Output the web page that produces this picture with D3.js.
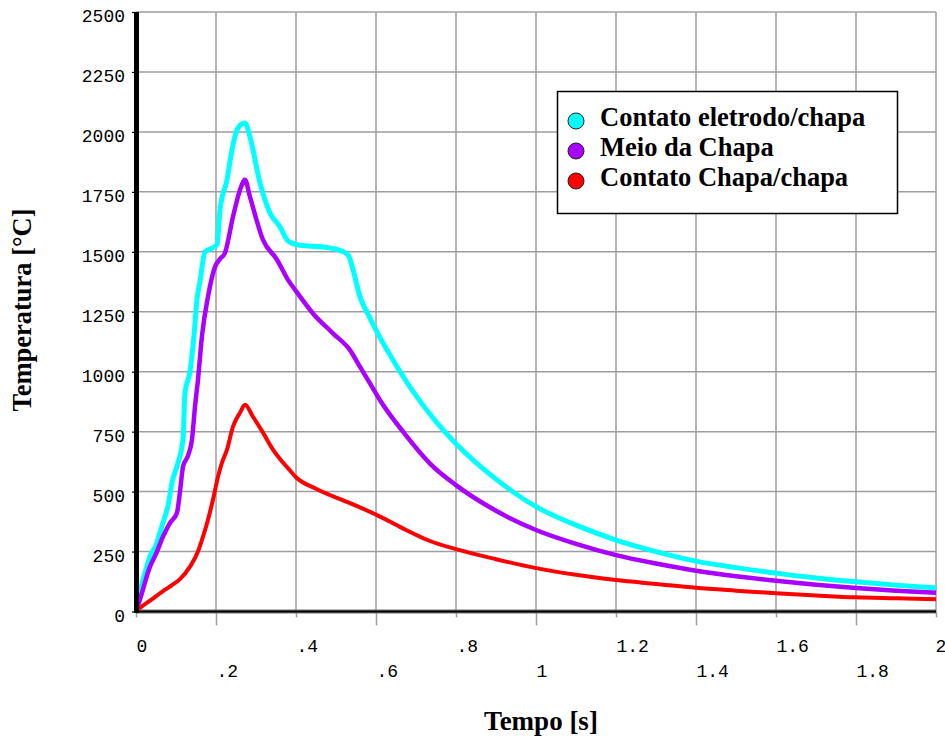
<!DOCTYPE html>
<html>
<head>
<meta charset="utf-8">
<script src="https://cdn.jsdelivr.net/npm/d3@7"></script>
<style>
  html, body { margin: 0; padding: 0; background: #fff; }
  svg { display: block; }
</style>
</head>
<body>
<script>
// ---------- DATA ----------
const seriesNames = ["Contato eletrodo/chapa", "Meio da Chapa", "Contato Chapa/chapa"];
const seriesColors = ["#00FFFF", "#AA00FF", "#FF0000"];

const eletrodoT = [0, 0.0175, 0.027, 0.035, 0.0525, 0.06, 0.0725, 0.08, 0.09, 0.105, 0.1175, 0.1225, 0.135, 0.145, 0.1525, 0.16, 0.1725, 0.19, 0.2025, 0.21, 0.2275, 0.24, 0.2525, 0.2625, 0.2725, 0.285, 0.31, 0.335, 0.36, 0.3775, 0.393, 0.41, 0.468, 0.51, 0.531, 0.543, 0.56, 0.58, 0.6, 0.65, 0.7, 0.75, 0.8, 0.9, 1.0, 1.1, 1.2, 1.3, 1.4, 1.5, 1.6, 1.7, 1.8, 1.9, 2.0];
const eletrodoV = [0, 133, 187, 230, 287, 330, 396, 440, 537, 620, 717, 912, 1000, 1150, 1300, 1375, 1500, 1515, 1530, 1675, 1800, 1925, 2008, 2030, 2037, 1979, 1787, 1662, 1604, 1550, 1534, 1527, 1520, 1506, 1485, 1423, 1312, 1240, 1173, 1028, 900, 792, 700, 552, 437, 360, 298, 250, 210, 183, 160, 140, 124, 110, 98];

const meioT = [0, 0.01, 0.035, 0.05, 0.0675, 0.085, 0.1025, 0.11, 0.1175, 0.13, 0.14, 0.1475, 0.155, 0.165, 0.18, 0.1975, 0.21, 0.2225, 0.2425, 0.26, 0.2725, 0.285, 0.3175, 0.3525, 0.38, 0.402, 0.443, 0.493, 0.535, 0.56, 0.585, 0.61, 0.668, 0.735, 0.8, 0.9, 1.0, 1.1, 1.2, 1.3, 1.4, 1.5, 1.6, 1.7, 1.8, 1.9, 2.0];
const meioV = [0, 50, 187, 240, 312, 370, 412, 500, 604, 650, 717, 854, 967, 1150, 1313, 1437, 1470, 1496, 1646, 1758, 1800, 1729, 1550, 1467, 1383, 1332, 1242, 1159, 1090, 1020, 951, 881, 749, 617, 527, 420, 340, 282, 235, 200, 170, 147, 128, 112, 98, 87, 78];

const chapaT = [0, 0.01, 0.035, 0.0675, 0.09, 0.11, 0.135, 0.155, 0.1675, 0.18, 0.1925, 0.205, 0.215, 0.2275, 0.2425, 0.26, 0.2725, 0.2925, 0.3175, 0.3425, 0.3675, 0.385, 0.4, 0.45, 0.535, 0.6, 0.66, 0.735, 0.8, 0.9, 1.0, 1.1, 1.2, 1.3, 1.4, 1.5, 1.6, 1.7, 1.8, 1.9, 2.0];
const chapaV = [0, 15, 45, 85, 110, 135, 187, 250, 312, 383, 467, 562, 621, 675, 771, 829, 862, 812, 746, 675, 621, 588, 560, 512, 452, 404, 353, 294, 260, 218, 181, 153, 131, 115, 99, 87, 76, 67, 59, 55, 51];

const yTickValues = [0, 250, 500, 750, 1000, 1250, 1500, 1750, 2000, 2250, 2500];
const xTopTicks = [0, 0.4, 0.8, 1.2, 1.6, 2];
const xTopLabels = ["0", ".4", ".8", "1.2", "1.6", "2"];
const xBottomTicks = [0.2, 0.6, 1.0, 1.4, 1.8];
const xBottomLabels = [".2", ".6", "1", "1.4", "1.8"];
const xGrid = [0.2, 0.4, 0.6, 0.8, 1.0, 1.2, 1.4, 1.6, 1.8, 2.0];

const yTitle = "Temperatura [°C]";
const xTitle = "Tempo [s]";

// ---------- CHART ----------
const W = 945, H = 737;
const svg = d3.select("body").append("svg").attr("width", W).attr("height", H);

const x = d3.scaleLinear().domain([0, 2]).range([136, 936]);
const y = d3.scaleLinear().domain([0, 2500]).range([611.5, 12]);

const gridColor = "#9e9e9e";
const monoFont = "'Liberation Mono', 'DejaVu Sans Mono', monospace";
const serifFont = "'Liberation Serif', 'Times New Roman', serif";

// horizontal grid
svg.append("g").selectAll("line").data(yTickValues.filter(v => v > 0)).join("line")
  .attr("x1", x(0)).attr("x2", x(2))
  .attr("y1", d => y(d)).attr("y2", d => y(d))
  .attr("stroke", gridColor).attr("stroke-width", 1.5);
// vertical grid
svg.append("g").selectAll("line").data(xGrid).join("line")
  .attr("x1", d => x(d)).attr("x2", d => x(d))
  .attr("y1", y(2500)).attr("y2", y(0))
  .attr("stroke", gridColor).attr("stroke-width", 1.5);

// series
const series = [
  { t: eletrodoT, v: eletrodoV, w: 5 },
  { t: meioT, v: meioV, w: 4.5 },
  { t: chapaT, v: chapaV, w: 4 }
];
const line = d3.line().x(d => x(d[0])).y(d => y(d[1])).curve(d3.curveMonotoneX);
series.forEach((s, i) => {
  const pts = s.t.map((t, k) => [t, s.v[k]]);
  svg.append("path").datum(pts)
    .attr("d", line)
    .attr("fill", "none")
    .attr("stroke", seriesColors[i])
    .attr("stroke-width", s.w)
    .attr("stroke-linejoin", "miter");
});

// Y axis
const yAxis = svg.append("g").attr("transform", `translate(${x(0)},0)`)
  .call(d3.axisLeft(y).tickValues(yTickValues).tickSize(4).tickPadding(7).tickFormat(d3.format("d")));
yAxis.select(".domain").remove();
yAxis.selectAll(".tick line").attr("stroke", "#000").attr("stroke-width", 1.2);
yAxis.selectAll("text")
  .attr("dy", "0.53em")
  .style("font-family", monoFont)
  .style("font-size", "18px")
  .attr("fill", "#000");

// X axis - top row labels
const xAxisTop = svg.append("g").attr("transform", `translate(0,${y(0)})`)
  .call(d3.axisBottom(x).tickValues(xTopTicks).tickSize(6).tickFormat((d, i) => xTopLabels[i]));
xAxisTop.select(".domain").remove();
xAxisTop.selectAll(".tick line").attr("stroke", gridColor).attr("stroke-width", 1.5);
xAxisTop.selectAll("text")
  .attr("y", 40).attr("dy", 0).attr("text-anchor", "start")
  .attr("x", (d) => d === 2 ? -1 : 0)
  .style("font-family", monoFont)
  .style("font-size", "18px").attr("fill", "#000");

// X axis - bottom row labels
const xAxisBot = svg.append("g").attr("transform", `translate(0,${y(0)})`)
  .call(d3.axisBottom(x).tickValues(xBottomTicks).tickSize(14).tickFormat((d, i) => xBottomLabels[i]));
xAxisBot.select(".domain").remove();
xAxisBot.selectAll(".tick line").attr("stroke", gridColor).attr("stroke-width", 1.5);
xAxisBot.selectAll("text")
  .attr("y", 65).attr("dy", 0).attr("text-anchor", "start")
  .style("font-family", monoFont)
  .style("font-size", "18px").attr("fill", "#000");

// zero line (double)
svg.append("line").attr("x1", x(0)).attr("x2", x(2)).attr("y1", y(0)).attr("y2", y(0))
  .attr("stroke", "#777").attr("stroke-width", 4);
svg.append("line").attr("x1", x(0)).attr("x2", x(2)).attr("y1", y(0)).attr("y2", y(0))
  .attr("stroke", "#000").attr("stroke-width", 2);

// Y axis thick line
svg.append("line").attr("x1", x(0) + 0.5).attr("x2", x(0) + 0.5).attr("y1", y(2500)).attr("y2", y(0) + 1.5)
  .attr("stroke", "#000").attr("stroke-width", 5);

// Axis titles
svg.append("text")
  .attr("transform", `translate(31,310) rotate(-90)`)
  .attr("text-anchor", "middle")
  .style("font-family", serifFont)
  .style("font-weight", "bold").style("font-size", "26.5px")
  .text(yTitle);
svg.append("text")
  .attr("x", 541).attr("y", 730)
  .attr("text-anchor", "middle")
  .style("font-family", serifFont)
  .style("font-weight", "bold").style("font-size", "27px")
  .text(xTitle);

// Legend
const lg = svg.append("g");
lg.append("rect").attr("x", 557.5).attr("y", 91.5).attr("width", 340).attr("height", 122)
  .attr("fill", "#fff").attr("stroke", "#000").attr("stroke-width", 1.5);
seriesNames.forEach((name, i) => {
  const cy = 121 + i * 30;
  lg.append("circle").attr("cx", 576).attr("cy", cy).attr("r", 8)
    .attr("fill", seriesColors[i]).attr("stroke", "#222").attr("stroke-width", 1);
  lg.append("text").attr("x", 600).attr("y", cy + 5)
    .style("font-family", serifFont)
    .style("font-weight", "bold").style("font-size", "26.5px")
    .text(name);
});
</script>
</body>
</html>
